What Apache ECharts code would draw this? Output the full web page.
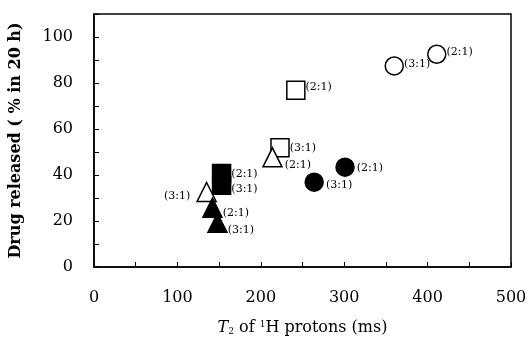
<!DOCTYPE html>
<html>
<head>
<meta charset="utf-8">
<script src="https://cdn.jsdelivr.net/npm/echarts@6/dist/echarts.min.js"></script>
<style>
  html, body { margin: 0; padding: 0; background: #fff; }
  #main { width: 530px; height: 344px; }
</style>
</head>
<body>
<div id="main"></div>
<script>
// T2 (ms) / drug released (%) per formulation, two ratios each
const ratios = ['(2:1)', '(3:1)'];
const openCircle = [[411, 92.5], [360, 87.4]];
const openSquare = [[242, 76.9], [223, 51.8]];
const openTriangle = [[214, 47.7], [135, 32.6]];
const filledCircle = [[301, 43.4], [264, 36.9]];
const filledSquare = [[153, 40.6], [153, 35.5]];
const filledTriangle = [[142, 25.8], [148, 19.2]];

const xTicks = [0, 100, 200, 300, 400, 500];
const yTicks = [0, 20, 40, 60, 80, 100];

const serif = 'DejaVu Serif';

// label placement per point: [position, dx, dy]
function pts(arr, place) {
  return arr.map((p, i) => {
    const pl = (place && place[i]) || ['right', 0, 0];
    return {
      value: p,
      label: {
        show: true,
        formatter: ratios[i],
        position: pl[0],
        distance: 0,
        offset: [pl[1], pl[2]]
      }
    };
  });
}

function makeSeries(data, symbol, filled, size, place) {
  return {
    type: 'scatter',
    symbol: symbol,
    symbolSize: size,
    data: pts(data, place),
    itemStyle: {
      color: filled ? '#000' : '#fff',
      borderColor: '#000',
      borderWidth: 1.5,
      opacity: 1
    },
    label: {
      color: '#000',
      fontFamily: serif,
      fontSize: 11
    },
    emphasis: { disabled: true }
  };
}

const myChart = echarts.init(document.getElementById('main'));
const option = {
  animation: false,
  grid: {
    left: 94, right: 19, top: 14, bottom: 77,
    show: true, borderColor: '#000', borderWidth: 1.5
  },
  xAxis: {
    type: 'value',
    min: 0, max: 500, interval: 50,
    axisLine: { show: true, lineStyle: { color: '#000', width: 1.5 } },
    axisTick: { show: true, inside: true, length: 5, lineStyle: { color: '#000' } },
    splitLine: { show: false },
    axisLabel: {
      color: '#000', fontFamily: serif, fontSize: 16, margin: 23,
      formatter: v => (xTicks.indexOf(v) >= 0 ? String(v) : '')
    },
    name: '{i|T}{sub|2} of {sup|1}H protons (ms)',
    nameLocation: 'middle',
    nameGap: 53,
    nameTextStyle: {
      color: '#000', fontFamily: serif, fontSize: 16,
      rich: {
        i: { fontFamily: serif, fontStyle: 'italic', fontSize: 16, color: '#000' },
        sub: { fontFamily: serif, fontSize: 9, color: '#000', verticalAlign: 'bottom', padding: [7, 0, 0, 0] },
        sup: { fontFamily: serif, fontSize: 9, color: '#000', verticalAlign: 'top', padding: [0, 0, 7, 0] }
      }
    }
  },
  yAxis: {
    type: 'value',
    min: 0, max: 110, interval: 10,
    axisLine: { show: true, lineStyle: { color: '#000', width: 1.5 } },
    axisTick: { show: true, inside: true, length: 5, lineStyle: { color: '#000' } },
    splitLine: { show: false },
    axisLabel: {
      color: '#000', fontFamily: serif, fontSize: 16, margin: 21,
      formatter: v => (yTicks.indexOf(v) >= 0 ? String(v) : '')
    },
    name: 'Drug released ( % in 20 h)',
    nameLocation: 'middle',
    nameGap: 70,
    nameTextStyle: { color: '#000', fontFamily: serif, fontSize: 16, fontWeight: 'bold' }
  },
  series: [
    makeSeries(openCircle, 'circle', false, 18, [['right', 0, -2], ['right', 0, -2]]),
    makeSeries(openSquare, 'rect', false, 18, [['right', 0, -3], ['right', 0, 0]]),
    makeSeries(openTriangle, 'triangle', false, 19, [['right', 2, 8], ['left', -6, 4]]),
    makeSeries(filledCircle, 'circle', true, 18, [['right', 2, 1], ['right', 2, 3]]),
    makeSeries(filledSquare, 'rect', true, 18, [['right', 0, 1], ['right', 0, 4]]),
    makeSeries(filledTriangle, 'triangle', true, 19, [['right', 0, 5], ['right', 0, 7]])
  ]
};
myChart.setOption(option);
</script>
</body>
</html>
